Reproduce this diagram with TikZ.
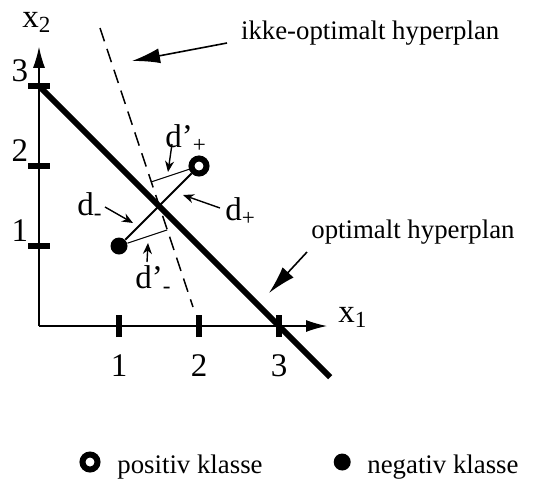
\documentclass[tikz,border=0pt]{standalone}
\usepackage{fontspec}
\setmainfont{Liberation Serif}
\usetikzlibrary{arrows.meta, positioning, calc}

\begin{document}
\begin{tikzpicture}[x=40pt, y=40pt, >={Latex[length=10.5pt, width=6pt]},
    txt/.style={font=\fontsize{13.4}{16}\selectfont, inner sep=0pt},
    axtxt/.style={font=\fontsize{16.5}{19}\selectfont, inner sep=0pt},
    tickmark/.style={line width=2.6pt},
    pospt/.style={circle, draw, line width=3pt, fill=white, minimum size=7.5pt, inner sep=0pt},
    negpt/.style={circle, fill=black, minimum size=8.5pt, inner sep=0pt},
    pointer/.style={-{Stealth[length=5.5pt, width=4.5pt]}, line width=0.7pt},
    bigpointer/.style={-{Latex[length=14pt, width=7.5pt]}, line width=0.8pt}]

    \useasboundingbox (-0.4875, -1.975) rectangle (6.175, 4.075);

    \coordinate (O) at (0, 0);
    \coordinate (Xe) at (3.6, 0);
    \coordinate (Ye) at (0, 3.49);

    \pgfmathsetmacro{\tl}{0.1375}  

    \draw[line width=0.6pt, ->] (O) -- (Xe);
    \draw[line width=0.6pt, ->] (O) -- (Ye);
    \node[axtxt, anchor=base west] (x1) at (3.7375, 0.05) {x\textsubscript{1}};
    \node[axtxt, anchor=base west] (x2) at (-0.2125, 3.7375) {x\textsubscript{2}};

    \foreach \i in {1, 2, 3} {
        \draw[tickmark] (\i, -\tl) -- (\i, \tl);
        \draw[tickmark] (-\tl, \i) -- (\tl, \i);
        \node[axtxt] (xt\i) at (\i, -0.5) {\i};
        \node[axtxt] (yt\i) at (-0.24, \i+0.19) {\i};
    }

    % hyperplanes
    \coordinate (H1) at (0, 3);
    \coordinate (H2) at (3.64, -0.64);
    \coordinate (D1) at (0.7625, 3.725);
    \coordinate (D2) at (1.925, 0.2375);

    \draw[line width=3pt] (H1) -- (H2);
    \draw[line width=0.75pt, dash pattern=on 7pt off 4pt] (D1) -- (D2);

    \coordinate (Pf) at ($(D1)!(2, 2)!(D2)$);
    \coordinate (Nf) at ($(D1)!(1, 1)!(D2)$);

    \node[negpt] (N) at (1, 1) {};
    \node[pospt] (P) at (2, 2) {};

    \draw[line width=0.9pt] (N) -- (P);
    \draw[line width=0.5pt] (P) -- (Pf);
    \draw[line width=0.5pt] (N) -- (Nf);

    \node[txt] (ikke) at (4.14, 3.66) {ikke-optimalt hyperplan};
    \coordinate (ikkeS) at (2.35, 3.5375);
    \coordinate (ikkeT) at (1.1625, 3.3125);
    \draw[bigpointer] (ikkeS) -- (ikkeT);

    \node[txt] (opt) at (4.675, 1.175) {optimalt hyperplan};
    \coordinate (optS) at (3.35, 0.925);
    \coordinate (optT) at (2.875, 0.4125);
    \draw[bigpointer] (optS) -- (optT);

    % distances
    \node[axtxt, anchor=base west] (dpp) at (1.575, 2.2375) {d’\textsubscript{+}};
    \coordinate (dppS) at (1.6625, 2.275);
    \coordinate (dppT) at (1.6125, 1.925);
    \draw[pointer] (dppS) -- (dppT);

    \node[axtxt, anchor=base west] (dm) at (0.475, 1.3875) {d\textsubscript{-}};
    \coordinate (dmS) at (0.825, 1.4875);
    \coordinate (dmT) at (1.175, 1.2875);
    \draw[pointer] (dmS) -- (dmT);

    \node[axtxt, anchor=base west] (dp) at (2.325, 1.325) {d\textsubscript{+}};
    \coordinate (dpS) at (2.2625, 1.475);
    \coordinate (dpT) at (1.8, 1.6375);
    \draw[pointer] (dpS) -- (dpT);

    \node[axtxt, anchor=base west] (dpm) at (1.2, 0.475) {d’\textsubscript{-}};
    \coordinate (dpmS) at (1.35, 0.8);
    \coordinate (dpmT) at (1.3625, 1.0375);
    \draw[pointer] (dpmS) -- (dpmT);

    % legend
    \node[pospt] (legP) at (0.6375, -1.7) {};
    \node[txt, anchor=base west] (legPt) at (0.975, -1.8375) {positiv klasse};
    \node[negpt] (legN) at (3.79, -1.7) {};
    \node[txt, anchor=base west] (legNt) at (4.1, -1.8375) {negativ klasse};

\end{tikzpicture}
\end{document}
